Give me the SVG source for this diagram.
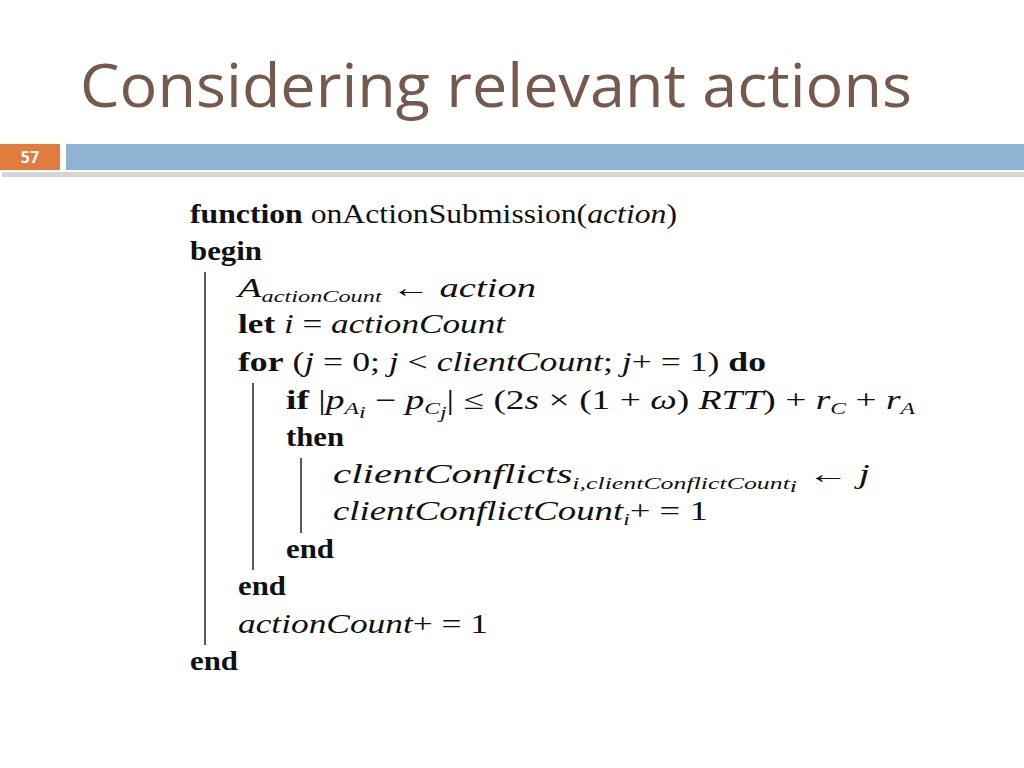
<svg xmlns="http://www.w3.org/2000/svg" width="1024" height="768" viewBox="0 0 1024 768">
<style>
.t{font-family:"Liberation Serif",serif;font-size:27px;fill:#111}
.b{font-weight:bold}
.i{font-style:italic}
.s{font-size:17px;font-style:italic}
.v{stroke:#222;stroke-width:1.5}
</style>
<rect width="1024" height="768" fill="#fff"/>
<text x="80" y="107" font-family="Open Sans,sans-serif" font-size="60" fill="#76584c" textLength="832" lengthAdjust="spacingAndGlyphs">Considering relevant actions</text>
<rect x="2" y="172" width="1022" height="5" fill="#bbb" opacity="0.6"/>
<rect x="0" y="144" width="60" height="26" fill="#e07c3e"/>
<text x="30" y="163" text-anchor="middle" font-family="Open Sans,sans-serif" font-weight="bold" font-size="16" fill="#fff">57</text>
<rect x="66" y="144" width="958" height="26" fill="#8fb4d3"/>
<g id="algo">
<text class="t" x="190" y="223" textLength="487" lengthAdjust="spacingAndGlyphs"><tspan class="b">function</tspan> onActionSubmission(<tspan class="i">action</tspan>)</text>
<text class="t b" x="190" y="260" textLength="72" lengthAdjust="spacingAndGlyphs">begin</text>
<text class="t" x="238" y="297" textLength="298" lengthAdjust="spacingAndGlyphs"><tspan class="i">A</tspan><tspan class="s" dy="5">actionCount</tspan><tspan dy="-5"> ← </tspan><tspan class="i">action</tspan></text>
<text class="t" x="238" y="333" textLength="267" lengthAdjust="spacingAndGlyphs"><tspan class="b">let</tspan> <tspan class="i">i</tspan> = <tspan class="i">actionCount</tspan></text>
<text class="t" x="238" y="371" textLength="528" lengthAdjust="spacingAndGlyphs"><tspan class="b">for</tspan> (<tspan class="i">j</tspan> = 0; <tspan class="i">j</tspan> &lt; <tspan class="i">clientCount</tspan>; <tspan class="i">j</tspan>+ = 1) <tspan class="b">do</tspan></text>
<text class="t" x="286" y="409" textLength="629" lengthAdjust="spacingAndGlyphs"><tspan class="b">if</tspan> |<tspan class="i">p</tspan><tspan class="s" dy="5">A</tspan><tspan class="s" font-size="12" dy="4">i</tspan><tspan dy="-9"> − </tspan><tspan class="i">p</tspan><tspan class="s" dy="5">C</tspan><tspan class="s" font-size="12" dy="4">j</tspan><tspan dy="-9">| ≤ (2</tspan><tspan class="i">s</tspan> × (1 + <tspan class="i">ω</tspan>) <tspan class="i">RTT</tspan>) + <tspan class="i">r</tspan><tspan class="s" dy="5">C</tspan><tspan dy="-5"> + </tspan><tspan class="i">r</tspan><tspan class="s" dy="5">A</tspan></text>
<text class="t b" x="286" y="446" textLength="58" lengthAdjust="spacingAndGlyphs">then</text>
<text class="t" x="333" y="483" textLength="537" lengthAdjust="spacingAndGlyphs"><tspan class="i">clientConflicts</tspan><tspan class="s" dy="6">i,clientConflictCount</tspan><tspan class="s" font-size="12" dy="3">i</tspan><tspan dy="-9"> ← </tspan><tspan class="i">j</tspan></text>
<text class="t" x="333" y="520" textLength="375" lengthAdjust="spacingAndGlyphs"><tspan class="i">clientConflictCount</tspan><tspan class="s" dy="5">i</tspan><tspan dy="-5">+ = 1</tspan></text>
<text class="t b" x="286" y="558" textLength="48" lengthAdjust="spacingAndGlyphs">end</text>
<text class="t b" x="238" y="595" textLength="48" lengthAdjust="spacingAndGlyphs">end</text>
<text class="t" x="238" y="633" textLength="250" lengthAdjust="spacingAndGlyphs"><tspan class="i">actionCount</tspan>+ = 1</text>
<text class="t b" x="190" y="670" textLength="48" lengthAdjust="spacingAndGlyphs">end</text>
<line class="v" x1="205" y1="272" x2="205" y2="645"/>
<line class="v" x1="253" y1="383" x2="253" y2="570"/>
<line class="v" x1="301" y1="458" x2="301" y2="533"/>
</g>
</svg>
